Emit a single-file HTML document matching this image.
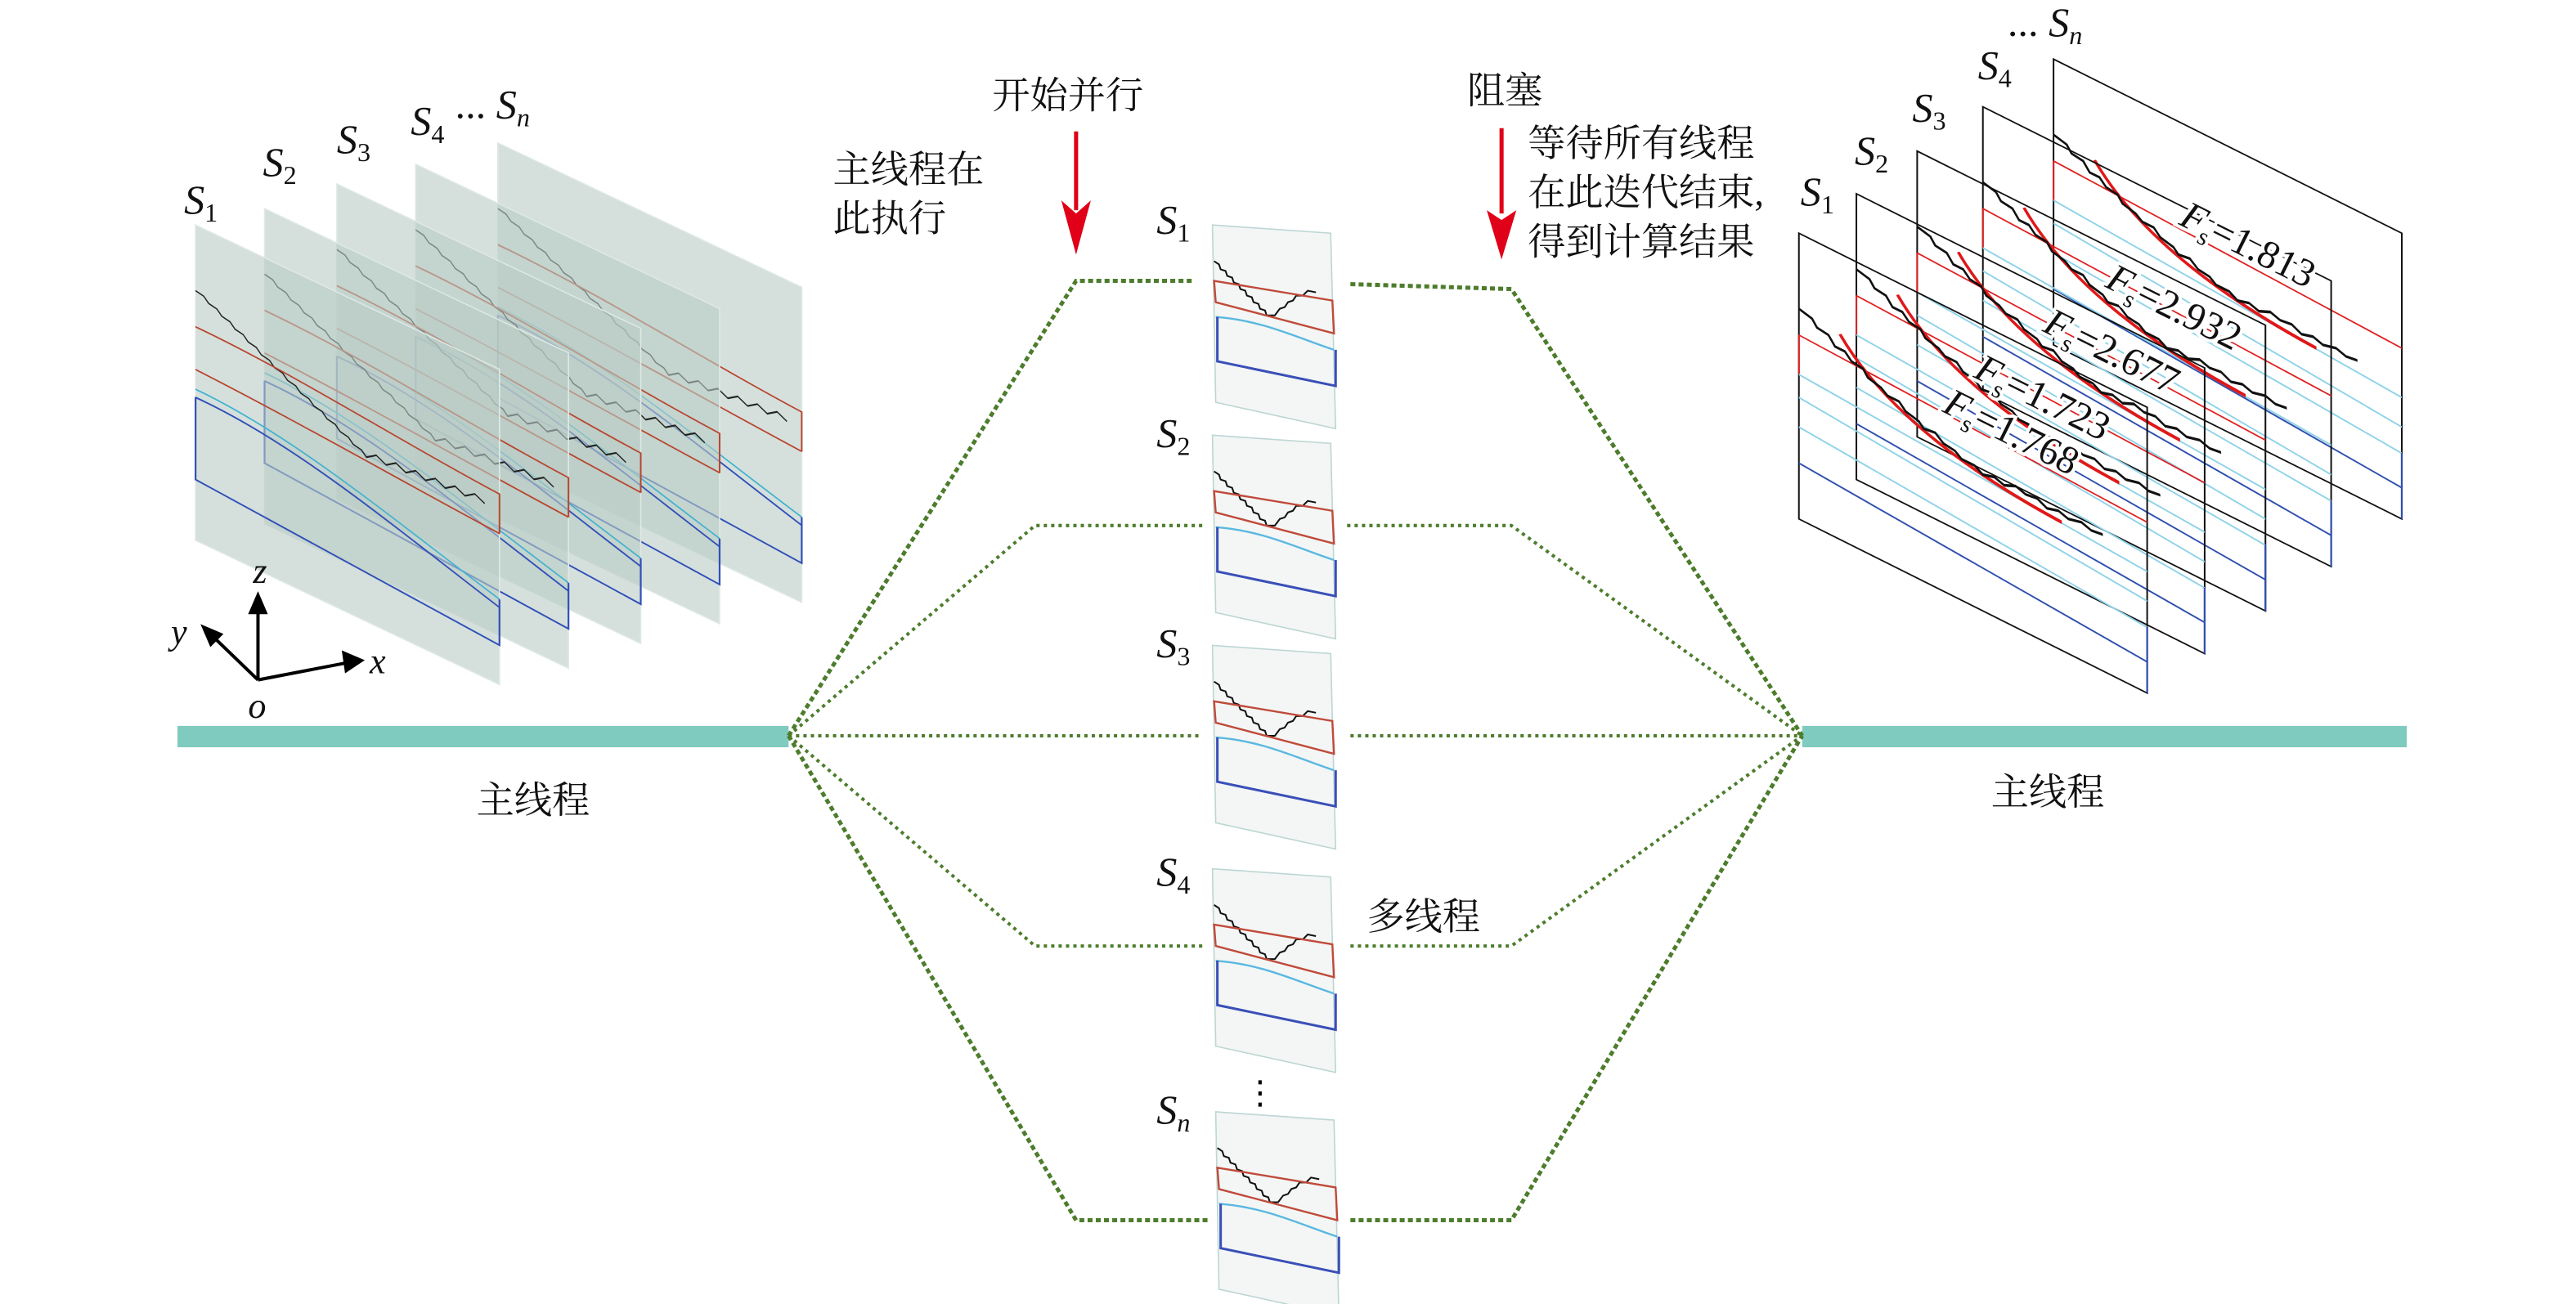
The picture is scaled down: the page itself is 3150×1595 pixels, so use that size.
<!DOCTYPE html>
<html><head><meta charset="utf-8"><style>
html,body{margin:0;padding:0;background:#fff;}
svg{display:block;}
.cn{font-family:"Liberation Serif","Noto Serif CJK SC",serif;font-size:23px;fill:#111;}
.s{font-family:"Liberation Serif",serif;font-style:italic;font-size:25px;fill:#111;}
.sub{font-family:"Liberation Serif",serif;font-style:normal;font-size:16px;}
.subi{font-family:"Liberation Serif",serif;font-style:italic;font-size:16px;}
.fs{font-family:"Liberation Serif",serif;font-size:24px;fill:#111;stroke:#fff;stroke-width:4px;paint-order:stroke;}
</style></head><body>
<svg width="3150" height="1595" viewBox="0 0 1568 794" xmlns="http://www.w3.org/2000/svg">
<defs>
<g id="lp">
 <rect x="0" y="0" width="185" height="192" fill="#b9cbc4" fill-opacity="0.6" stroke="#dfe9e5" stroke-width="0.8"/>
 <path d="M0,40 l5,1 l3,3 l5,1 l3,3 l5,1 l3,3 l5,1 l3,3 l5,1 l3,3 l5,1 l3,3 l5,1 l3,3 l5,1 l3,3 l5,1 l3,3 l5,1 l3,3 l5,1 l3,3 l5,1 l3,3 l5,1 l3,3 l6,-4 l6,3 l6,-4 l6,3 l6,-4 l6,3 l6,-4 l6,3 l6,-4 l6,3 l6,-4 l6,3" fill="none" stroke="#222" stroke-width="0.9"/>
 <path d="M0,62 C60,62 120,72 185,76 V100 M0,88 C60,90 120,96 185,100" fill="none" stroke="#b8452f" stroke-width="1"/>
 <path d="M0,100 C60,100 120,122 185,140" fill="none" stroke="#3fb2d0" stroke-width="1"/>
 <path d="M0,105 C60,104 120,126 185,145 M0,105 V155 L185,168 V140" fill="none" stroke="#3050b8" stroke-width="1.1"/>
</g>
<g id="rp">
 <rect x="0" y="0" width="212" height="174" fill="none" stroke="#111" stroke-width="1"/>
 <path d="M0,62 L212,70 M0,62 V86" fill="none" stroke="#e02020" stroke-width="1"/>
 <path d="M0,86 L212,100 M0,100 L212,118 M0,118 L212,134" fill="none" stroke="#8fd3e8" stroke-width="1.1"/>
 <path d="M0,140 L212,155 M212,134 V174" fill="none" stroke="#2f4fae" stroke-width="1.1"/>
 <path d="M25,49 Q60,92 160,96" fill="none" stroke="#e01818" stroke-width="2.2"/>
 <path d="M0,46 l8,2 l3,4 l7,1 l4,5 l6,0 l4,4 l7,1 l3,4 l8,2 l4,3 l7,0 l4,4 l8,2 l3,3 l7,-1 l5,4 l7,1 l4,3 l8,0 l5,3 l7,-2 l6,2 l7,-3 l6,2 l7,-1 l6,3 l7,-2 l6,2 l8,-2 l6,2 l7,-1" fill="none" stroke="#111" stroke-width="1.6"/>
</g>
<g id="mp">
 <path d="M0,0 L72,5 L75,124 L2,108 Z" fill="#f3f6f5" stroke="#bcd6d3" stroke-width="0.8"/>
 <path d="M1,22 l3,2 l1,3 l3,1 l1,3 l3,1 l1,3 l3,1 l1,3 l3,1 l1,3 l3,1 l1,3 l3,1 l1,3 l3,1 l1,3 l5,0 l3,-4 l3,-1 l2,-3 l3,-1 l2,-3 l4,0 l3,-3 l5,1" fill="none" stroke="#111" stroke-width="1"/>
 <path d="M1,34 L73,46 L74,66 L2,47 Z" fill="none" stroke="#c04a3a" stroke-width="1.2"/>
 <path d="M2,56 C30,58 50,68 74,76" fill="none" stroke="#5ab8e0" stroke-width="1.2"/>
 <path d="M3,56 V83 L75,98 V76" fill="none" stroke="#3a4fb8" stroke-width="1.5"/>
</g>
</defs>

<!-- left stack -->
<use href="#lp" transform="matrix(1,0.475,0,1,303,87)"/>
<use href="#lp" transform="matrix(1,0.475,0,1,253,100)"/>
<use href="#lp" transform="matrix(1,0.475,0,1,205,112)"/>
<use href="#lp" transform="matrix(1,0.475,0,1,161,127)"/>
<use href="#lp" transform="matrix(1,0.475,0,1,119,137)"/>
<text class="s" x="112" y="130">S<tspan class="sub" dy="5">1</tspan></text>
<text class="s" x="160" y="107">S<tspan class="sub" dy="5">2</tspan></text>
<text class="s" x="205" y="93">S<tspan class="sub" dy="5">3</tspan></text>
<text class="s" x="250" y="82">S<tspan class="sub" dy="5">4</tspan></text>
<text class="s" x="277" y="72"><tspan style="font-style:normal">...</tspan> S<tspan class="subi" dy="5">n</tspan></text>

<!-- axes -->
<g stroke="#000" stroke-width="2" fill="none">
<path d="M157,414 V370 M157,414 L128,386 M157,414 L214,403"/>
</g>
<path d="M157,360 L151,374 L163,374 Z" fill="#000"/>
<path d="M122,380 L128,394 L136,386 Z" fill="#000"/>
<path d="M222,402 L208,396 L210,410 Z" fill="#000"/>
<text class="s" x="154" y="355" style="font-size:22px">z</text>
<text class="s" x="104" y="392" style="font-size:22px">y</text>
<text class="s" x="225" y="410" style="font-size:22px">x</text>
<text class="s" x="151" y="437" style="font-size:22px">o</text>

<!-- main thread bars -->
<rect x="108" y="442" width="372" height="13" fill="#7fcbbf"/>
<rect x="1097" y="442" width="368" height="13" fill="#7fcbbf"/>
<text class="cn" x="290" y="495">主线程</text>
<text class="cn" x="1212" y="490">主线程</text>

<!-- dotted connectors -->
<g fill="none" stroke="#4d7d2c" stroke-width="2.5" stroke-dasharray="3,2">
<path d="M480,448 L655,171 H727"/>
<path d="M822,173 L920,176 L1097,448"/>
<path d="M480,448 L655,743 H737"/>
<path d="M822,743 H920 L1097,448"/>
</g>
<g fill="none" stroke="#4d7d2c" stroke-width="2" stroke-dasharray="2,2.5">
<path d="M480,448 L630,320 H732"/>
<path d="M820,320 H920 L1097,448"/>
<path d="M480,448 H732"/>
<path d="M822,448 H1097"/>
<path d="M480,448 L630,576 H732"/>
<path d="M822,576 H920 L1097,448"/>
</g>

<!-- middle panels -->
<use href="#mp" transform="translate(738,137)"/>
<use href="#mp" transform="translate(738,265)"/>
<use href="#mp" transform="translate(738,393)"/>
<use href="#mp" transform="translate(738,529)"/>
<use href="#mp" transform="translate(740,677)"/>
<text class="s" x="704" y="142">S<tspan class="sub" dy="5">1</tspan></text>
<text class="s" x="704" y="272">S<tspan class="sub" dy="5">2</tspan></text>
<text class="s" x="704" y="400">S<tspan class="sub" dy="5">3</tspan></text>
<text class="s" x="704" y="539">S<tspan class="sub" dy="5">4</tspan></text>
<text class="s" x="704" y="684">S<tspan class="subi" dy="5">n</tspan></text>
<text x="757" y="672" style="font-family:'DejaVu Sans',sans-serif;font-size:20px">⋮</text>
<text class="cn" x="832" y="566">多线程</text>

<!-- top labels and arrows -->
<text class="cn" x="604" y="66">开始并行</text>
<text class="cn" x="507" y="111">主线程在</text>
<text class="cn" x="507" y="141">此执行</text>
<path d="M655,80 V128" stroke="#e00018" stroke-width="2.5"/>
<path d="M646,122 L655,155 L664,122 L655,130 Z" fill="#e00018"/>
<text class="cn" x="893" y="63">阻塞</text>
<path d="M914,78 V130" stroke="#e00018" stroke-width="2.5"/>
<path d="M905,128 L914,158 L923,128 L914,134 Z" fill="#e00018"/>
<text class="cn" x="930" y="95">等待所有线程</text>
<text class="cn" x="930" y="125">在此迭代结束,</text>
<text class="s" x="1096" y="125">S<tspan class="sub" dy="5">1</tspan></text>
<text class="cn" x="930" y="155">得到计算结果</text>

<!-- right stack -->
<use href="#rp" transform="matrix(1,0.5,0,1,1250,36)"/>
<use href="#rp" transform="matrix(1,0.5,0,1,1207,65)"/>
<use href="#rp" transform="matrix(1,0.5,0,1,1167,92)"/>
<use href="#rp" transform="matrix(1,0.5,0,1,1130,118)"/>
<use href="#rp" transform="matrix(1,0.5,0,1,1095,142)"/>
<text class="s" x="1129" y="100">S<tspan class="sub" dy="5">2</tspan></text>
<text class="s" x="1164" y="74">S<tspan class="sub" dy="5">3</tspan></text>
<text class="s" x="1204" y="48">S<tspan class="sub" dy="5">4</tspan></text>
<text class="s" x="1222" y="22"><tspan style="font-style:normal">...</tspan> S<tspan class="subi" dy="5">n</tspan></text>

<text class="fs" transform="translate(1365,156) rotate(26.5)" text-anchor="middle"><tspan font-style="italic">F</tspan><tspan font-size="15" dy="5">s</tspan><tspan dy="-5">=1.813</tspan></text>
<text class="fs" transform="translate(1320,194) rotate(26.5)" text-anchor="middle"><tspan font-style="italic">F</tspan><tspan font-size="15" dy="5">s</tspan><tspan dy="-5">=2.932</tspan></text>
<text class="fs" transform="translate(1282,221) rotate(26.5)" text-anchor="middle"><tspan font-style="italic">F</tspan><tspan font-size="15" dy="5">s</tspan><tspan dy="-5">=2.677</tspan></text>
<text class="fs" transform="translate(1240,249) rotate(26.5)" text-anchor="middle"><tspan font-style="italic">F</tspan><tspan font-size="15" dy="5">s</tspan><tspan dy="-5">=1.723</tspan></text>
<text class="fs" transform="translate(1221,270) rotate(26.5)" text-anchor="middle"><tspan font-style="italic">F</tspan><tspan font-size="15" dy="5">s</tspan><tspan dy="-5">=1.768</tspan></text>
</svg>
</body></html>
